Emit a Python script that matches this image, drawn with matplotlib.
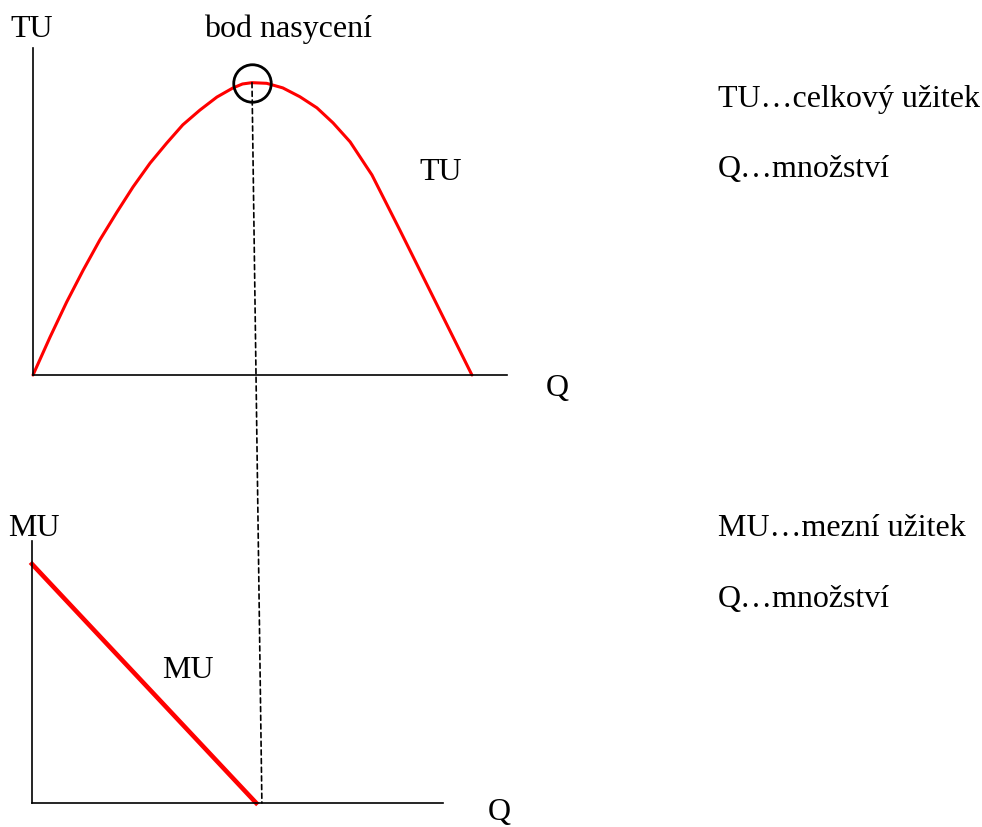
import matplotlib.pyplot as plt
from matplotlib.patches import ConnectionPatch

plt.rcParams['font.family'] = ['Liberation Serif', 'DejaVu Serif']

# total utility curve
tu_q = [0, 0.36, 0.71, 1.06, 1.41, 1.77, 2.11, 2.47, 2.82, 3.16, 3.52, 3.88, 4.22,
        4.42, 4.62, 4.93, 5.27, 5.63, 5.99, 6.33, 6.69, 7.04, 7.15, 7.74, 8.44, 9.26]
tu_val = [0, 1.16, 2.23, 3.21, 4.13, 4.98, 5.75, 6.48, 7.09, 7.65, 8.10, 8.50, 8.78,
          8.90, 8.94, 8.92, 8.78, 8.51, 8.17, 7.71, 7.13, 6.36, 6.12, 4.43, 2.39, 0]

# marginal utility line
mu_q = [0, 4.73]
mu_val = [9.12, 0]

# saturation point
sat_q, sat_tu = 4.62, 8.94
sat_q_low = 4.85

W, H = 982, 827
fig = plt.figure(figsize=(W / 100, H / 100), dpi=100)

def px_axes(x0, y_top, x1, y_bot):
    return fig.add_axes([x0 / W, 1 - y_bot / H, (x1 - x0) / W, (y_bot - y_top) / H])

ax1 = px_axes(33, 48, 507, 375)
ax1.set_xlim(0, 10)
ax1.set_ylim(0, 10)
ax2 = px_axes(32, 541, 443, 803)
ax2.set_xlim(0, (443 - 32) / 47.4)
ax2.set_ylim(0, 10)

for ax in (ax1, ax2):
    ax.spines[['top', 'right']].set_visible(False)
    ax.spines[['left', 'bottom']].set_linewidth(1.2)
    ax.set_xticks([])
    ax.set_yticks([])
    ax.patch.set_alpha(0)

ax1.plot(tu_q, tu_val, color='#ff0000', lw=2.2, clip_on=False,
         solid_joinstyle='round', solid_capstyle='round')
ax1.plot([sat_q], [sat_tu], 'o', ms=27, mfc='none', mec='black', mew=2, clip_on=False)
ax2.plot(mu_q, mu_val, color='#ff0000', lw=3.3, clip_on=False)

con = ConnectionPatch(xyA=(sat_q, sat_tu), coordsA=ax1.transData,
                      xyB=(sat_q_low, 0), coordsB=ax2.transData,
                      color='black', lw=1.2, linestyle=(0, (3, 2.2)))
fig.add_artist(con)

def txt(x, y, s):
    fig.text(x / W, 1 - y / H, s, fontsize=23, va='baseline', ha='left')

txt(10, 37, 'TU')
txt(204, 37, 'bod nasycení')
txt(419, 180, 'TU')
txt(546, 396, 'Q')
txt(718, 107, 'TU…celkový užitek')
txt(718, 177, 'Q…množství')
txt(8, 536, 'MU')
txt(162, 678, 'MU')
txt(488, 820, 'Q')
txt(718, 536, 'MU…mezní užitek')
txt(718, 607, 'Q…množství')

fig.savefig('out.png', dpi=100)
